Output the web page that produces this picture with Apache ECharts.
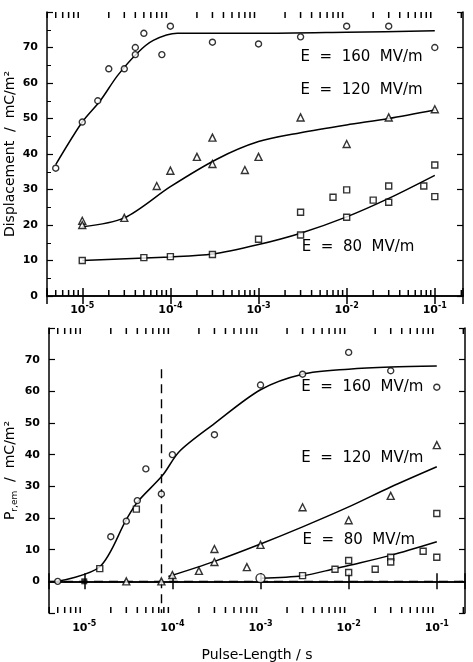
<!DOCTYPE html>
<html><head><meta charset="utf-8">
<script src="https://cdn.jsdelivr.net/npm/echarts@6/dist/echarts.min.js"></script>
<style>html,body{margin:0;padding:0;background:#fff}#c{width:473px;height:662px}</style>
</head><body><div id="c"></div>
<script>
// ---------- data (top panel: Displacement) ----------
const topCirc160X = [5e-6, 1e-5, 1.5e-5, 2e-5, 3e-5, 4e-5, 4e-5, 5e-5, 8e-5, 1e-4, 3e-4, 1e-3, 3e-3, 1e-2, 3e-2, 1e-1];
const topCirc160Y = [36, 49, 55, 64, 64, 70, 68, 74, 68, 76, 71.5, 71, 73, 76, 76, 70];
const topFit160X = [5e-6, 1e-5, 1.6e-5, 2.5e-5, 4.2e-5, 6.4e-5, 1.2e-4, 1e-3, 1e-2, 1e-1];
const topFit160Y = [37, 49, 55, 62, 68.4, 72, 74, 74, 74.3, 74.7];

const topTri120X = [1e-5, 1e-5, 3e-5, 7e-5, 1e-4, 2e-4, 3e-4, 3e-4, 7e-4, 1e-3, 3e-3, 1e-2, 3e-2, 1e-1];
const topTri120Y = [21.2, 20, 22, 31, 35.3, 39.2, 37.2, 44.6, 35.5, 39.2, 50.3, 42.8, 50.3, 52.6];
const topFit120X = [1e-5, 3e-5, 1e-4, 3.4e-4, 1e-3, 3e-3, 1e-2, 3e-2, 1e-1];
const topFit120Y = [19.5, 22, 30.8, 38.6, 43.5, 46, 48.2, 50, 52.4];

const topSq80X = [1e-5, 5e-5, 1e-4, 3e-4, 1e-3, 3e-3, 3e-3, 7e-3, 1e-2, 1e-2, 2e-2, 3e-2, 3e-2, 7.5e-2, 1e-1, 1e-1];
const topSq80Y = [10, 10.8, 11.1, 11.7, 16, 17.2, 23.6, 27.8, 29.9, 22.2, 27, 31, 26.4, 31, 36.9, 28];
const topFit80X = [1e-5, 1e-4, 3e-4, 1e-3, 3e-3, 1e-2, 3e-2, 1e-1];
const topFit80Y = [10, 11, 11.8, 14.5, 17.7, 22.3, 27.5, 34];

// ---------- data (bottom panel: P r,em) ----------
const botCirc160X = [5e-6, 2e-5, 3e-5, 4e-5, 5e-5, 7.5e-5, 1e-4, 3e-4, 1e-3, 3e-3, 1e-2, 3e-2, 1e-1];
const botCirc160Y = [0, 14.1, 19, 25.5, 35.5, 27.6, 40, 46.3, 62, 65.4, 72.3, 66.5, 61.3];
const botFit160X = [5e-6, 1.5e-5, 3e-5, 4e-5, 7.7e-5, 1.2e-4, 2.9e-4, 1e-3, 3e-3, 1e-2, 3e-2, 1e-1];
const botFit160Y = [0, 4.6, 19.5, 25, 33.4, 41, 49.5, 60.5, 65.4, 67, 67.7, 68];

const botTri120X = [3e-5, 7.5e-5, 1e-4, 2e-4, 3e-4, 3e-4, 7e-4, 1e-3, 3e-3, 1e-2, 3e-2, 1e-1];
const botTri120Y = [0, 0, 2, 3.3, 10.2, 6.1, 4.5, 11.5, 23.4, 19.3, 27, 43];
const botFit120X = [9e-5, 3e-4, 1e-3, 3e-3, 1e-2, 3e-2, 1e-1];
const botFit120Y = [1.5, 6.3, 11.8, 17.2, 23.5, 29.8, 36.2];

const botSq80X = [1.5e-5, 3.9e-5, 3e-3, 7e-3, 1e-2, 1e-2, 2e-2, 3e-2, 3e-2, 7e-2, 1e-1, 1e-1];
const botSq80Y = [4, 22.8, 1.8, 3.8, 6.6, 2.8, 3.8, 7.6, 6.1, 9.5, 7.6, 21.4];
const botFilledSqX = [1e-5];
const botFilledSqY = [0];
const botOpenX = [1e-3];
const botOpenY = [1];
const botFit80X = [1e-3, 3e-3, 7e-3, 1e-2, 3e-2, 1e-1];
const botFit80Y = [1, 1.8, 4, 5, 8.2, 12.5];

const pulseMarkerX = 7.5e-5;

// tick labels / annotation texts
const topYTicks = [0, 10, 20, 30, 40, 50, 60, 70];
const botYTicks = [0, 10, 20, 30, 40, 50, 60, 70];
const labels = ['E  =  160  MV/m', 'E  =  120  MV/m', 'E  =  80  MV/m'];

// ---------- chart ----------
const FONT = 'DejaVu Sans';
const XMIN = Math.pow(10, -5.4), XMAX = Math.pow(10, -0.68);
const pair = (xs, ys) => xs.map((x, i) => [x, ys[i]]);

const minorVals = [];
for (let n = -6; n <= -1; n++) for (let k = 2; k <= 9; k++) {
  const v = k * Math.pow(10, n);
  if (v > XMIN && v < XMAX) minorVals.push(v);
}

function powFmt(v) {
  const l = Math.log10(v), e = Math.round(l);
  if (Math.abs(l - e) > 1e-6) return '';
  return '{b|10}{s|' + e + '}';
}
const powRich = {
  b: { fontFamily: FONT, fontSize: 11, fontWeight: 'bold', color: '#000', lineHeight: 16 },
  s: { fontFamily: FONT, fontSize: 8, fontWeight: 'bold', color: '#000', verticalAlign: 'top', lineHeight: 9 }
};

const axLine = { show: true, lineStyle: { color: '#000', width: 1.5 } };

function xAxes(gridIndex, bottom) {
  return [
    { type: 'log', gridIndex, min: XMIN, max: XMAX, position: 'bottom',
      axisLine: axLine, splitLine: { show: false },
      axisTick: { inside: true, length: 8, lineStyle: { color: '#000', width: 1.5 } },
      axisLabel: { formatter: powFmt, rich: powRich, margin: bottom ? 7 : 6, showMinLabel: true, showMaxLabel: true },
      name: bottom ? 'Pulse-Length / s' : '', nameLocation: 'middle', nameGap: 35, nameMoveOverlap: false,
      nameTextStyle: { fontFamily: FONT, fontSize: 14, color: '#000' } },
    { type: 'log', gridIndex, min: XMIN, max: XMAX, position: 'top',
      axisLine: axLine, splitLine: { show: false },
      axisTick: { inside: true, length: 8, lineStyle: { color: '#000', width: 1.5 } },
      axisLabel: { show: false } }
  ];
}
function yAxes(gridIndex, min, ticks, name, nameRich) {
  const fmt = v => (ticks.indexOf(v) >= 0 ? String(v) : '');
  return [
    { type: 'value', gridIndex, min, max: 80, interval: 10, position: 'left',
      axisLine: axLine, splitLine: { show: false },
      axisTick: { inside: true, length: 6, lineStyle: { color: '#000', width: 1.2 } },
      minorTick: { show: gridIndex === 0, splitNumber: 2, length: 4, lineStyle: { color: '#000' } },
      axisLabel: { formatter: fmt, margin: 9, fontFamily: FONT, fontSize: 11, fontWeight: 'bold', color: '#000' },
      name, nameLocation: 'middle', nameRotate: 90, nameGap: 30, nameMoveOverlap: false,
      nameTextStyle: Object.assign({ fontFamily: FONT, fontSize: 14, color: '#000' }, nameRich ? { rich: nameRich } : {}) },
    { type: 'value', gridIndex, min, max: 80, interval: 10, position: 'right',
      axisLine: axLine, splitLine: { show: false },
      axisTick: { inside: true, length: 6, lineStyle: { color: '#000', width: 1.2 } },
      axisLabel: { show: false } }
  ];
}

const mk = (sym, size) => ({ type: 'scatter', symbol: sym, symbolSize: size,
  itemStyle: { color: '#fff', borderColor: '#000', borderWidth: 1.4 }, z: 5 });
const fit = (d, xi, yi) => ({ type: 'line', xAxisIndex: xi, yAxisIndex: yi, data: d, smooth: 0.3,
  showSymbol: false, lineStyle: { color: '#000', width: 1.5 }, z: 3 });
const note = (x, y, t) => ({ coord: [x, y], value: t });
const noteMP = (items) => ({ symbol: 'circle', symbolSize: 0, silent: true,
  label: { show: true, position: 'right', distance: 0, formatter: p => p.value,
    fontFamily: FONT, fontSize: 15, color: '#000' }, data: items });
// minor log ticks on bottom and top frame, positioned through the axes
const tickSeries = (xi, yi, ymin, ymax) => ({
  type: 'custom', xAxisIndex: xi, yAxisIndex: yi, silent: true, clip: false, z: 6,
  data: minorVals.map(v => [v, ymin, ymax]),
  renderItem: (params, api) => {
    const b = api.coord([api.value(0), api.value(1)]);
    const t = api.coord([api.value(0), api.value(2)]);
    const st = { stroke: '#000', lineWidth: 1.5 };
    return { type: 'group', children: [
      { type: 'line', shape: { x1: b[0], y1: b[1], x2: b[0], y2: b[1] - 6 }, style: st },
      { type: 'line', shape: { x1: t[0], y1: t[1], x2: t[0], y2: t[1] + 6 }, style: st }
    ] };
  }
});

const option = {
  animation: false,
  backgroundColor: '#fff',
  grid: [
    { left: 47, right: 10, top: 12, height: 284, outerBoundsMode: 'none', containLabel: false },
    { left: 49, right: 8, top: 328, height: 285, outerBoundsMode: 'none', containLabel: false }
  ],
  xAxis: [...xAxes(0, false), ...xAxes(1, true)],
  yAxis: [
    ...yAxes(0, 0, topYTicks, 'Displacement  /  mC/m²'),
    ...yAxes(1, -10, botYTicks, '{p|P}{sub|r,em}{p|  /  mC/m²}', {
      p: { fontFamily: FONT, fontSize: 14, color: '#000', lineHeight: 18 },
      sub: { fontFamily: FONT, fontSize: 9, color: '#000', verticalAlign: 'bottom', lineHeight: 9 }
    })
  ],
  series: [
    // top panel
    Object.assign(mk('circle', 6), { xAxisIndex: 0, yAxisIndex: 0, data: pair(topCirc160X, topCirc160Y) }),
    Object.assign(mk('triangle', 7), { xAxisIndex: 0, yAxisIndex: 0, data: pair(topTri120X, topTri120Y) }),
    Object.assign(mk('rect', 6), { xAxisIndex: 0, yAxisIndex: 0, data: pair(topSq80X, topSq80Y) }),
    Object.assign(fit(pair(topFit160X, topFit160Y), 0, 0), {
      markPoint: noteMP([note(3e-3, 67.3, labels[0]), note(3e-3, 58, labels[1]), note(3.1e-3, 13.8, labels[2])]) }),
    fit(pair(topFit120X, topFit120Y), 0, 0),
    fit(pair(topFit80X, topFit80Y), 0, 0),
    tickSeries(0, 0, 0, 80),
    // bottom panel
    Object.assign(mk('circle', 6), { xAxisIndex: 2, yAxisIndex: 2, data: pair(botCirc160X, botCirc160Y) }),
    Object.assign(mk('triangle', 7), { xAxisIndex: 2, yAxisIndex: 2, data: pair(botTri120X, botTri120Y) }),
    Object.assign(mk('rect', 6), { xAxisIndex: 2, yAxisIndex: 2, data: pair(botSq80X, botSq80Y) }),
    { type: 'scatter', symbol: 'rect', symbolSize: 6, xAxisIndex: 2, yAxisIndex: 2, z: 5,
      itemStyle: { color: '#000' }, data: pair(botFilledSqX, botFilledSqY) },
    Object.assign(mk('circle', 9), { xAxisIndex: 2, yAxisIndex: 2, data: pair(botOpenX, botOpenY) }),
    Object.assign(fit(pair(botFit160X, botFit160Y), 2, 2), {
      markPoint: noteMP([note(2.9e-3, 61.3, labels[0]), note(2.9e-3, 39, labels[1]), note(3e-3, 13, labels[2])]) }),
    fit(pair(botFit120X, botFit120Y), 2, 2),
    Object.assign(fit(pair(botFit80X, botFit80Y), 2, 2), {
      markLine: { silent: true, symbol: 'none', animation: false,
        lineStyle: { type: [9, 6], color: '#000', width: 1.4 }, label: { show: false },
        data: [ { yAxis: 0 }, [ { coord: [pulseMarkerX, 67] }, { coord: [pulseMarkerX, -10] } ] ] } }),
    tickSeries(2, 2, -10, 80)
  ]
};
echarts.init(document.getElementById('c'), null, { renderer: 'canvas' }).setOption(option);
</script>
</body></html>
